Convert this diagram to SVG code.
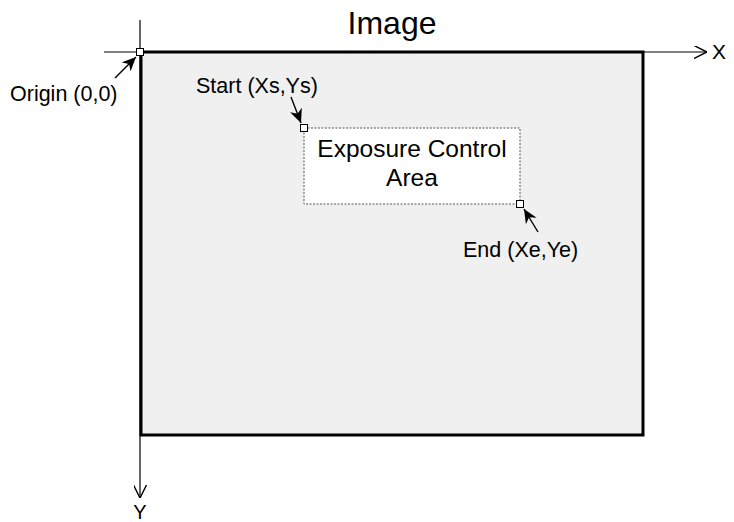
<svg xmlns="http://www.w3.org/2000/svg" width="734" height="522" viewBox="0 0 734 522">
<style>
text{font-family:"Liberation Sans",Arial,sans-serif;fill:#000}
.lbl{font-size:21.5px}
.axis{stroke:#000;stroke-width:1.2;fill:none}
.pt{fill:#fff;stroke:#000;stroke-width:1}
.ptr{stroke:#000;stroke-width:1.4;fill:none}
</style>
<defs>
<marker id="open" viewBox="0 0 10 10" refX="10" refY="5" markerWidth="13" markerHeight="13" markerUnits="userSpaceOnUse" orient="auto"><path d="M0,0 L10,5 L0,10" fill="none" stroke="#000" stroke-width="1.1"/></marker>
<marker id="solid" viewBox="0 0 10 10" refX="10" refY="5" markerWidth="14" markerHeight="14" markerUnits="userSpaceOnUse" orient="auto"><path d="M0,0.5 L10,5 L0,9.5 L3,5 Z" fill="#000"/></marker>
</defs>
<text x="392" y="34" font-size="32" text-anchor="middle">Image</text>
<g id="image">
<rect x="141" y="52" width="502" height="383" fill="#f0f0f0" stroke="#000" stroke-width="3"/>
</g>
<g id="area">
<rect x="304" y="128" width="216" height="76" fill="#fff" stroke="#555" stroke-width="1" stroke-dasharray="2,1.5"/>
<text x="412" y="157" font-size="24.5" text-anchor="middle">Exposure Control</text>
<text x="412" y="186" font-size="24.5" text-anchor="middle">Area</text>
</g>
<g id="connectors">
<line class="axis" x1="104" y1="52" x2="707" y2="52" marker-end="url(#open)"/>
<line class="axis" x1="140" y1="20" x2="140" y2="498" marker-end="url(#open)"/>
<line class="ptr" x1="115" y1="78" x2="136" y2="57" marker-end="url(#solid)"/>
<line class="ptr" x1="291" y1="97" x2="301" y2="123" marker-end="url(#solid)"/>
<line class="ptr" x1="538" y1="232" x2="524" y2="209" marker-end="url(#solid)"/>
</g>
<g id="origin">
<rect class="pt" x="136.5" y="48.5" width="7" height="7"/>
<text class="lbl" x="10" y="101">Origin (0,0)</text>
</g>
<g id="start">
<rect class="pt" x="300.5" y="124.5" width="7" height="7"/>
<text class="lbl" x="196" y="93">Start (Xs,Ys)</text>
</g>
<g id="end">
<rect class="pt" x="516.5" y="200.5" width="7" height="7"/>
<text class="lbl" x="463" y="257">End (Xe,Ye)</text>
</g>
<g id="xlabel"><text x="712" y="59" font-size="21">X</text></g>
<g id="ylabel"><text x="140" y="519" font-size="20" text-anchor="middle">Y</text></g>
</svg>
